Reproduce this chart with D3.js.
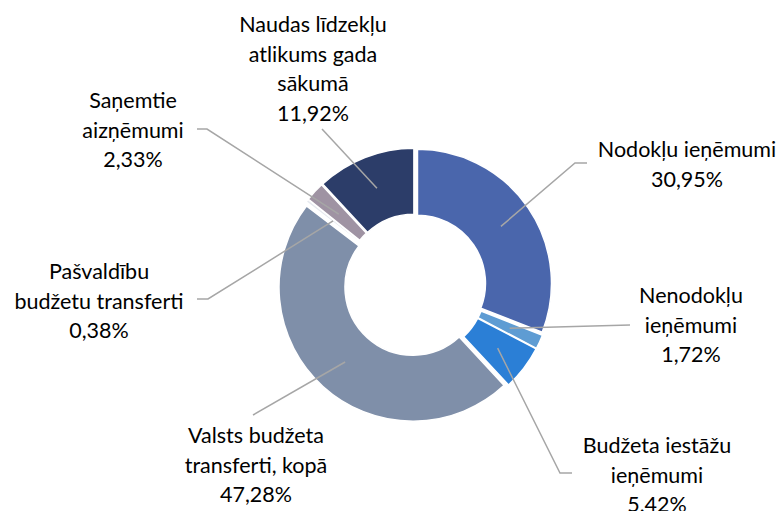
<!DOCTYPE html>
<html><head><meta charset="utf-8">
<script src="https://cdn.jsdelivr.net/npm/d3@7"></script>
<style>html,body{margin:0;padding:0;background:#fff;}svg{display:block;}</style>
</head><body>
<svg id="chart" width="783" height="511"></svg>
<script>
// ---- data ----
const categories = [
  "Nodokļu ieņēmumi",
  "Nenodokļu ieņēmumi",
  "Budžeta iestāžu ieņēmumi",
  "Valsts budžeta transferti, kopā",
  "Pašvaldību budžetu transferti",
  "Saņemtie aizņēmumi",
  "Naudas līdzekļu atlikums gada sākumā"
];
const values = [30.95, 1.72, 5.42, 47.28, 0.38, 2.33, 11.92];
const valueLabels = ["30,95%", "1,72%", "5,42%", "47,28%", "0,38%", "2,33%", "11,92%"];
const labelLines = [
  ["Nodokļu ieņēmumi"],
  ["Nenodokļu", "ieņēmumi"],
  ["Budžeta iestāžu", "ieņēmumi"],
  ["Valsts budžeta", "transferti, kopā"],
  ["Pašvaldību", "budžetu transferti"],
  ["Saņemtie", "aizņēmumi"],
  ["Naudas līdzekļu", "atlikums gada", "sākumā"]
];

// ---- layout / style ----
const colors = ["#4A66AC", "#5E9CD3", "#2B7FD6", "#7F8FA9", "#E6E9EF", "#9F93A3", "#2C3D69"];
const cx = 415, cy = 285, rOuter = 134, rInner = 68, explode = 3;
const lineH = 29.5;
// label anchor: center x, first baseline y; leader: elbow points after slice centroid
const labelPos = [
  {x: 687, y: 157, leader: [[575, 163], [587, 163]]},
  {x: 691, y: 303, leader: [[630, 325]]},
  {x: 657, y: 453, leader: [[560, 473], [572, 473]]},
  {x: 256, y: 443, leader: [[253, 415]]},
  {x: 99,  y: 279, leader: [[208, 299], [197, 299]]},
  {x: 133, y: 108, leader: [[207, 129], [197, 129]]},
  {x: 313, y: 32,  leader: [[322, 129]]}
];

const svg = d3.select("#chart");
const g = svg.append("g").attr("transform", `translate(${cx},${cy})`);

const pie = d3.pie().sort(null).value(d => d)(values);
const arc = d3.arc().innerRadius(rInner).outerRadius(rOuter);
const midArc = d3.arc().innerRadius(101).outerRadius(101);

function offset(d) {
  const a = (d.startAngle + d.endAngle) / 2;
  return [explode * Math.sin(a), -explode * Math.cos(a)];
}

g.selectAll("path.slice").data(pie).join("path")
  .attr("class", "slice")
  .attr("d", arc)
  .attr("fill", (d, i) => colors[i])
  .attr("stroke", "#fff")
  .attr("stroke-width", 1.5)
  .attr("transform", d => { const o = offset(d); return `translate(${o[0]},${o[1]})`; });

// leader lines
const line = d3.line();
pie.forEach((d, i) => {
  const o = offset(d);
  const c = midArc.centroid(d);
  const start = [cx + c[0] + o[0], cy + c[1] + o[1]];
  const pts = [start].concat(labelPos[i].leader);
  svg.append("path")
    .attr("d", line(pts))
    .attr("fill", "none")
    .attr("stroke", "#A6A6A6")
    .attr("stroke-width", 1.5);
});

// labels
labelLines.forEach((lines, i) => {
  const p = labelPos[i];
  const t = svg.append("text")
    .attr("text-anchor", "middle")
    .attr("font-family", "Lato, 'Open Sans', sans-serif")
    .attr("font-size", 21.5)
    .attr("fill", "#000");
  const all = lines.concat([valueLabels[i]]);
  all.forEach((s, k) => {
    t.append("tspan").attr("x", p.x).attr("y", p.y + k * lineH).text(s);
  });
});
</script>
</body></html>
